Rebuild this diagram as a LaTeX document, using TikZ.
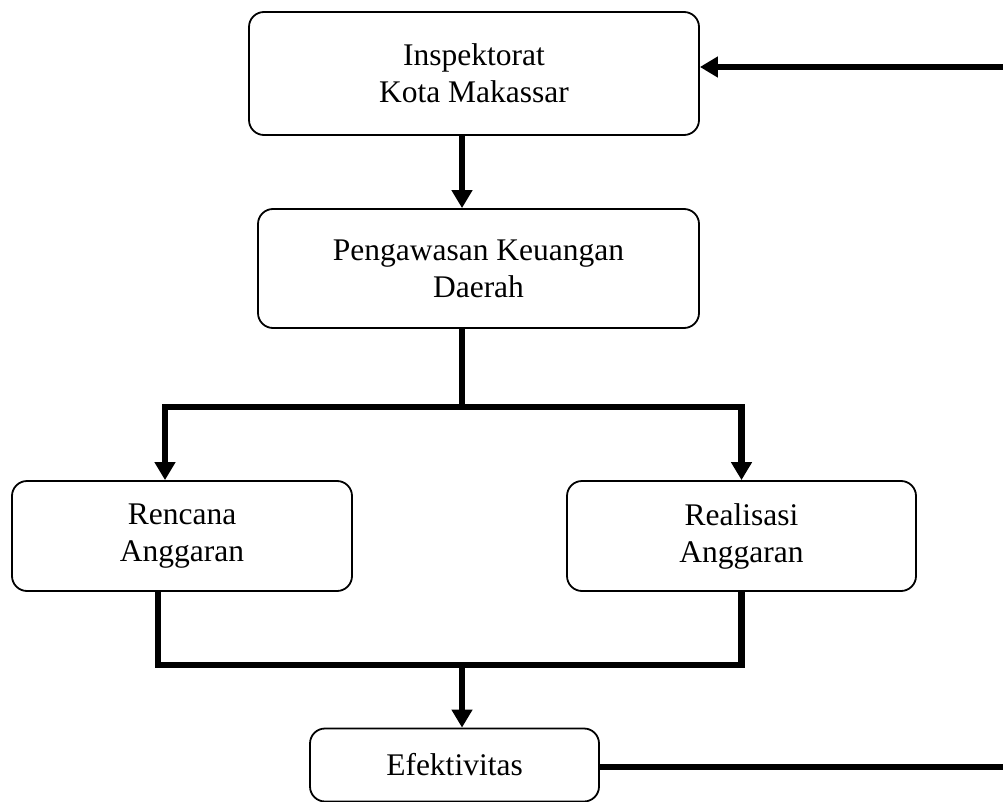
\documentclass[tikz,border=0pt]{standalone}
\usepackage{fontspec}
\setmainfont{Liberation Serif}
\usetikzlibrary{arrows.meta}
\begin{document}
\begin{tikzpicture}[x=1pt,y=-1pt,
  box/.style={draw=black,line width=1.8pt,rounded corners=15pt,align=center,inner sep=0pt,
    font=\fontsize{31.5}{37}\selectfont},
  conn/.style={line width=6.5pt,draw=black},
  tip/.style={-{Triangle[width=20pt,length=18pt]}}]
\useasboundingbox (0,0) rectangle (1003,802);
\node[box,minimum width=450pt,minimum height=123pt] (insp) at (474,73.5) {Inspektorat\\Kota Makassar};
\node[box,minimum width=441pt,minimum height=119pt] (peng) at (478.5,268.5) {Pengawasan Keuangan\\Daerah};
\node[box,minimum width=340pt,minimum height=110pt] (ren) at (182,536) {Rencana\\Anggaran};
\node[box,minimum width=349pt,minimum height=110pt] (rea) at (741.5,536) {Realisasi\\Anggaran};
\node[box,minimum width=289pt,minimum height=73pt] (eff) at (454.5,765) {Efektivitas};
\coordinate (split) at (462,407);
\coordinate (join) at (462,665);
\coordinate (tr) at (1003,67);
\coordinate (br) at (1003,767);
\draw[conn,tip] (insp.south -| split) -- (peng.north -| split);
\draw[conn] (peng.south -| split) -- (split);
\draw[conn,{Triangle[width=20pt,length=18pt]}-{Triangle[width=20pt,length=18pt]}] ([xshift=-17pt]ren.north) |- (split) -| (rea.north);
\draw[conn] ([xshift=-24pt]ren.south) |- (join) -| (rea.south);
\draw[conn,tip] (join) -- (eff.north -| join);
\draw[conn] (br -| eff.east) -- (br);
\draw[conn,tip] (tr) -- (tr -| insp.east);
\end{tikzpicture}
\end{document}
